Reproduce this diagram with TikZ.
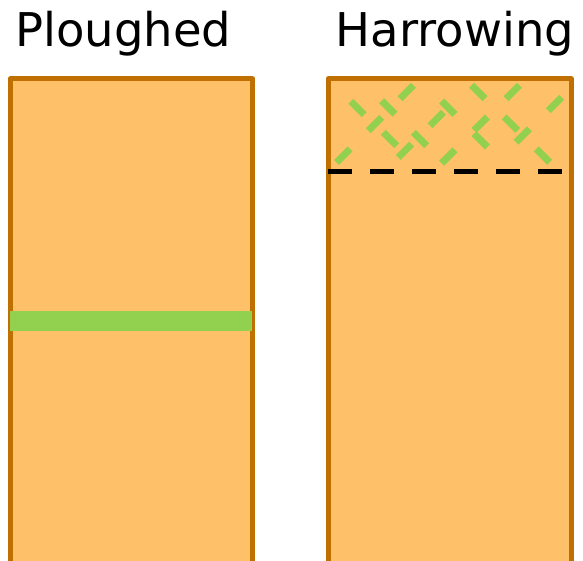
\documentclass[tikz,border=0pt]{standalone}
\usepackage{fontspec}
\setmainfont{DejaVu Sans}
\definecolor{soil}{HTML}{FEC068}
\definecolor{soiledge}{HTML}{C07000}
\definecolor{grass}{HTML}{92D050}
\tikzset{
  field/.style={draw=soiledge, fill=soil, line width=5pt, line join=round},
  title/.style={anchor=base west, inner sep=0pt, font=\fontsize{46.5}{56}\selectfont},
  clod/.style={draw=grass, line width=7pt},
  furrow/.style={draw=black, line width=5pt, dash pattern=on 24pt off 18pt}
}
\newcommand{\clodback}[2]{\draw[clod] (#1-6.7,#2-6.7) -- (#1+6.7,#2+6.7);}
\newcommand{\clodfwd}[2]{\draw[clod] (#1-6.7,#2+6.7) -- (#1+6.7,#2-6.7);}
\begin{document}
\begin{tikzpicture}[x=1pt,y=-1pt]
  \useasboundingbox (0,0) rectangle (583,561);
  \clip (0,0) rectangle (583,561);

  % titles
  \node[title] (ploughed) at (15,46.7) {Ploughed};
  \node[title] (harrowing) at (335.5,46.7) {Harrowing};

  % ploughed field with the buried green layer
  \draw[field] (10,79) rectangle (252.5,563);
  \fill[grass] (10,311) rectangle (252,331);

  % harrowed field
  \draw[field] (328,79) rectangle (571,563);
  \draw[furrow] (328,171.5) -- (564,171.5);

  % broken-up clods in the harrowed top layer
  \clodback{357.5}{108}
  \clodfwd{406.7}{92}
  \clodback{388.3}{107.5}
  \clodfwd{375}{124}
  \clodback{390}{139}
  \clodback{420}{139}
  \clodfwd{405}{150.7}
  \clodfwd{343.3}{155.7}
  \clodfwd{436.7}{119}
  \clodback{448.3}{107.7}
  \clodfwd{448.3}{156.5}
  \clodback{478.3}{92}
  \clodfwd{480.7}{123.7}
  \clodback{480.7}{140.3}
  \clodfwd{512.7}{92}
  \clodback{510.9}{123.7}
  \clodfwd{522.7}{135.5}
  \clodback{542.9}{155.5}
  \clodfwd{555}{104}
\end{tikzpicture}
\end{document}
